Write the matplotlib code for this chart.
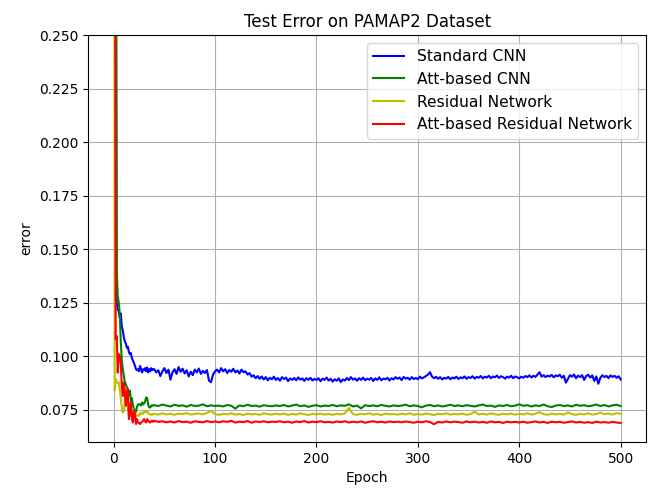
import numpy as np
from matplotlib import pyplot as plt

# epochs: every epoch at the start, then every 2nd / 4th epoch
epochs_cnn = list(range(40)) + list(range(40, 501, 2))
epochs = list(range(40)) + list(range(40, 501, 4))

#Standard CNN
cnn_early = [0.90, 0.55, 0.30, 0.125, 0.122, 0.121, 0.118, 0.120, 0.114, 0.112,
             0.109, 0.107, 0.106, 0.104, 0.1045, 0.102, 0.101, 0.1015, 0.099, 0.098,
             0.097, 0.0955, 0.094, 0.0935, 0.094, 0.093, 0.0955, 0.094, 0.0925, 0.094,
             0.0935, 0.0945, 0.093, 0.0948, 0.0925, 0.094, 0.093, 0.0945, 0.0935, 0.094]
cnn_late = [0.0940, 0.0925, 0.0935, 0.0908, 0.0930, 0.0945, 0.0922, 0.0938, 0.0891, 0.0925,
            0.0940, 0.0918, 0.0950, 0.0928, 0.0942, 0.0920, 0.0935, 0.0906, 0.0928, 0.0912,
            0.0938, 0.0925, 0.0943, 0.0918, 0.0932, 0.0922, 0.0936, 0.0886, 0.0879, 0.0915,
            0.0930, 0.0938, 0.0925, 0.0945, 0.0930, 0.0940, 0.0922, 0.0936, 0.0928, 0.0942,
            0.0925, 0.0934, 0.0920, 0.0938, 0.0926, 0.0930, 0.0915, 0.0922, 0.0905, 0.0912,
            0.0898, 0.0908, 0.0895, 0.0906, 0.0892, 0.0903, 0.0888, 0.0900, 0.0893, 0.0905,
            0.0890, 0.0899, 0.0886, 0.0903, 0.0894, 0.0901, 0.0884, 0.0897, 0.0890, 0.0899,
            0.0888, 0.0902, 0.0891, 0.0897, 0.0885, 0.0898, 0.0890, 0.0900, 0.0887, 0.0895,
            0.0889, 0.0898, 0.0884, 0.0896, 0.0890, 0.0901, 0.0887, 0.0895, 0.0882, 0.0893,
            0.0886, 0.0897, 0.0880, 0.0892, 0.0887, 0.0899, 0.0889, 0.0903, 0.0891, 0.0897,
            0.0886, 0.0898, 0.0890, 0.0901, 0.0888, 0.0896, 0.0891, 0.0899, 0.0885, 0.0897,
            0.0890, 0.0902, 0.0888, 0.0896, 0.0893, 0.0900, 0.0887, 0.0898, 0.0892, 0.0903,
            0.0895, 0.0901, 0.0889, 0.0904, 0.0896, 0.0900, 0.0891, 0.0903, 0.0894, 0.0899,
            0.0893, 0.0905, 0.0897, 0.0902, 0.0908, 0.0915, 0.0926, 0.0905, 0.0898, 0.0904,
            0.0895, 0.0903, 0.0892, 0.0900, 0.0896, 0.0904, 0.0893, 0.0901, 0.0897, 0.0905,
            0.0894, 0.0902, 0.0898, 0.0906, 0.0895, 0.0903, 0.0899, 0.0907, 0.0896, 0.0904,
            0.0900, 0.0908, 0.0897, 0.0905, 0.0901, 0.0909, 0.0898, 0.0906, 0.0902, 0.0910,
            0.0899, 0.0907, 0.0903, 0.0896, 0.0905, 0.0901, 0.0909, 0.0898, 0.0906, 0.0902,
            0.0897, 0.0905, 0.0900, 0.0908, 0.0903, 0.0911, 0.0901, 0.0909, 0.0904, 0.0915,
            0.0926, 0.0905, 0.0912, 0.0903, 0.0910, 0.0906, 0.0913, 0.0902, 0.0911, 0.0907,
            0.0914, 0.0900, 0.0909, 0.0877, 0.0895, 0.0912, 0.0905, 0.0915, 0.0898, 0.0910,
            0.0903, 0.0912, 0.0890, 0.0908, 0.0914, 0.0901, 0.0911, 0.0885, 0.0906, 0.0872,
            0.0900, 0.0912, 0.0903, 0.0909, 0.0898, 0.0911, 0.0904, 0.0909, 0.0900, 0.0907,
            0.0892]

#Att-based CNN
att_cnn_early = [0.90, 0.70, 0.45, 0.14, 0.128, 0.125, 0.12, 0.107, 0.098, 0.094,
                 0.091, 0.088, 0.087, 0.0855, 0.0847, 0.082, 0.084, 0.079, 0.0805, 0.077,
                 0.0755, 0.0745, 0.074, 0.0765, 0.0775, 0.0777, 0.0775, 0.077, 0.0785, 0.0775,
                 0.078, 0.079, 0.0808, 0.0805, 0.0775, 0.0762, 0.0761, 0.0768, 0.0772, 0.0770]
att_cnn_late = [0.0772, 0.0768, 0.0775, 0.0770, 0.0766, 0.0774, 0.0769, 0.0771, 0.0765, 0.0773,
                0.0768, 0.0770, 0.0776, 0.0767, 0.0771, 0.0768,
                0.0770, 0.0766, 0.0773, 0.0769, 0.0756, 0.0771, 0.0767, 0.0774, 0.0768, 0.0770,
                0.0765, 0.0772, 0.0769, 0.0767, 0.0771,
                0.0768, 0.0773, 0.0766, 0.0770, 0.0775, 0.0767, 0.0771, 0.0764, 0.0769, 0.0772,
                0.0766, 0.0770, 0.0768, 0.0773, 0.0767,
                0.0771, 0.0769, 0.0776, 0.0766, 0.0770, 0.0757, 0.0772, 0.0768, 0.0771, 0.0767,
                0.0773, 0.0769, 0.0766, 0.0771, 0.0768,
                0.0770, 0.0774, 0.0767, 0.0771, 0.0768, 0.0762, 0.0770, 0.0773, 0.0767, 0.0771,
                0.0766, 0.0769, 0.0774, 0.0768, 0.0771,
                0.0767, 0.0772, 0.0769, 0.0766, 0.0771, 0.0775, 0.0768, 0.0770, 0.0764, 0.0771,
                0.0768, 0.0773, 0.0767, 0.0770, 0.0776,
                0.0769, 0.0772, 0.0766, 0.0771, 0.0768, 0.0775, 0.0767, 0.0763, 0.0770, 0.0773,
                0.0768, 0.0771, 0.0766, 0.0774, 0.0769,
                0.0772, 0.0767, 0.0770, 0.0775, 0.0768, 0.0773, 0.0766, 0.0771, 0.0774, 0.0768]

#Residual Network
res_early = [1.00, 0.084, 0.0895, 0.088, 0.0875, 0.0878, 0.085, 0.080, 0.0765, 0.0738,
             0.0745, 0.079, 0.0847, 0.078, 0.0769, 0.0722, 0.0735, 0.0722, 0.0745, 0.0753,
             0.0745, 0.073, 0.0725, 0.0722, 0.0728, 0.0722, 0.0735, 0.0730, 0.0738, 0.0732,
             0.0740, 0.0745, 0.0738, 0.0746, 0.0735, 0.0731, 0.0728, 0.073, 0.0727, 0.0732]
res_late = [0.0731, 0.0728, 0.0734, 0.0729, 0.0732, 0.0727, 0.0733, 0.0730, 0.0735, 0.0728,
            0.0731, 0.0733, 0.0729, 0.0736, 0.0745, 0.0730,
            0.0727, 0.0732, 0.0729, 0.0734, 0.0728, 0.0731, 0.0726, 0.0733, 0.0729, 0.0731,
            0.0727, 0.0734, 0.0730, 0.0728, 0.0732,
            0.0729, 0.0733, 0.0727, 0.0731, 0.0728, 0.0734, 0.0730, 0.0726, 0.0732, 0.0729,
            0.0733, 0.0728, 0.0731, 0.0727, 0.0732,
            0.0729, 0.0733, 0.0760, 0.0730, 0.0727, 0.0732, 0.0729, 0.0734, 0.0728, 0.0731,
            0.0726, 0.0733, 0.0729, 0.0731, 0.0728,
            0.0732, 0.0729, 0.0734, 0.0727, 0.0731, 0.0728, 0.0733, 0.0730, 0.0726, 0.0732,
            0.0729, 0.0734, 0.0728, 0.0731, 0.0729,
            0.0733, 0.0727, 0.0731, 0.0741, 0.0729, 0.0732, 0.0728, 0.0734, 0.0730, 0.0727,
            0.0732, 0.0729, 0.0733, 0.0728, 0.0731,
            0.0729, 0.0734, 0.0728, 0.0732, 0.0739, 0.0730, 0.0727, 0.0733, 0.0729, 0.0731,
            0.0728, 0.0738, 0.0730, 0.0727, 0.0732,
            0.0729, 0.0734, 0.0728, 0.0731, 0.0737, 0.0730, 0.0733, 0.0728, 0.0735, 0.0731]

#Att-based Residual Network
att_res_early = [0.90, 0.45, 0.108, 0.1095, 0.0924, 0.101, 0.1002, 0.097, 0.0862, 0.0815,
                 0.0878, 0.083, 0.0769, 0.0831, 0.0847, 0.0707, 0.0753, 0.0785, 0.0707, 0.0691,
                 0.0746, 0.073, 0.0684, 0.0707, 0.0691, 0.0688, 0.0684, 0.069, 0.0695, 0.0699,
                 0.0707, 0.0696, 0.0691, 0.0707, 0.0698, 0.0694, 0.0691, 0.0697, 0.0699, 0.0694]
att_res_late = [0.0699, 0.0694, 0.0697, 0.0692, 0.0696, 0.0691, 0.0698, 0.0693, 0.0695, 0.0690,
                0.0697, 0.0694, 0.0692, 0.0698, 0.0693, 0.0696,
                0.0692, 0.0697, 0.0694, 0.0699, 0.0691, 0.0695, 0.0693, 0.0698, 0.0690, 0.0696,
                0.0693, 0.0697, 0.0692, 0.0695, 0.0694,
                0.0697, 0.0692, 0.0695, 0.0690, 0.0696, 0.0693, 0.0698, 0.0691, 0.0695, 0.0693,
                0.0697, 0.0692, 0.0694, 0.0691, 0.0696,
                0.0693, 0.0697, 0.0691, 0.0695, 0.0692, 0.0696, 0.0690, 0.0694, 0.0697, 0.0692,
                0.0695, 0.0691, 0.0696, 0.0693, 0.0695,
                0.0692, 0.0696, 0.0693, 0.0690, 0.0695, 0.0692, 0.0697, 0.0693, 0.0683, 0.0694,
                0.0691, 0.0696, 0.0692, 0.0695, 0.0693,
                0.0690, 0.0696, 0.0692, 0.0695, 0.0691, 0.0694, 0.0690, 0.0696, 0.0692, 0.0694,
                0.0689, 0.0695, 0.0692, 0.0694, 0.0691,
                0.0695, 0.0690, 0.0693, 0.0696, 0.0691, 0.0694, 0.0689, 0.0695, 0.0692, 0.0694,
                0.0690, 0.0693, 0.0696, 0.0691, 0.0694,
                0.0690, 0.0693, 0.0689, 0.0695, 0.0691, 0.0693, 0.0690, 0.0694, 0.0691, 0.0689]

labels = ['Standard CNN', 'Att-based CNN', 'Residual Network', 'Att-based Residual Network']
xs = [epochs_cnn, epochs, epochs, epochs]
series = [cnn_early + cnn_late, att_cnn_early + att_cnn_late,
          res_early + res_late, att_res_early + att_res_late]
colors = ['b', 'g', 'y', 'r']

fig = plt.figure(figsize=(6.51, 4.92), dpi=100)
ax = fig.add_axes([0.1357, 0.1016, 0.8566, 0.8272])
for x, s, c, lab in zip(xs, series, colors, labels):
    ax.plot(x, s, c, label=lab, linewidth=1.5)
ax.set_xlim(-25, 525)
ax.set_ylim(0.06, 0.25)
ax.set_yticks(np.arange(0.075, 0.2501, 0.025))
ax.set_title('Test Error on PAMAP2 Dataset')
ax.set_xlabel('Epoch')
ax.set_ylabel('error')
ax.grid()
ax.legend(loc='upper right', fontsize=11.2, borderaxespad=0.5)
fig.savefig('out.png', dpi=100)
